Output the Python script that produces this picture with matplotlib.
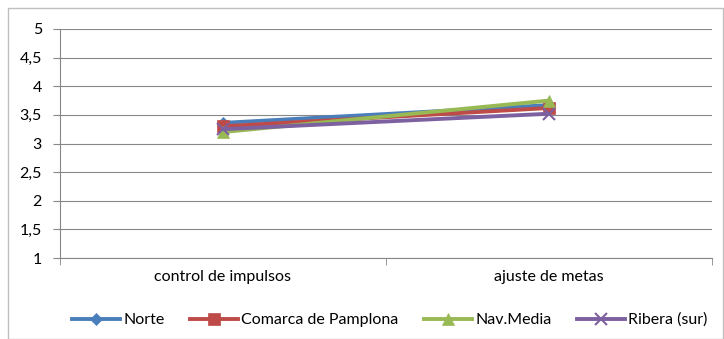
import matplotlib
matplotlib.use("Agg")
import matplotlib.pyplot as plt
from matplotlib.patches import Rectangle

categories = ["control de impulsos", "ajuste de metas"]
norte = [3.36, 3.67]
comarca = [3.30, 3.62]
navmedia = [3.20, 3.75]
ribera = [3.25, 3.52]
yticks = [1, 1.5, 2, 2.5, 3, 3.5, 4, 4.5, 5]
ylabels = ["1", "1,5", "2", "2,5", "3", "3,5", "4", "4,5", "5"]

plt.rcParams['font.family'] = ['Lato', 'DejaVu Sans']
fig = plt.figure(figsize=(7.24, 3.39), dpi=100)
fig.patches.append(Rectangle((8/724, 0), 715/724, 331/339, transform=fig.transFigure,
                             fill=False, edgecolor='#BFBFBF', lw=1))
ax = fig.add_axes([60/724, 1 - 258/339, 652/724, 229/339])

x = list(range(len(categories)))
series = [
    ("Norte", norte, '#4A7EBB', 'D', 6),
    ("Comarca de Pamplona", comarca, '#BE4B48', 's', 8),
    ("Nav.Media", navmedia, '#98B954', '^', 8),
    ("Ribera (sur)", ribera, '#7D60A0', 'x', 9),
]
for name, vals, c, m, ms in series:
    ax.plot(x, vals, color=c, lw=2.8, marker=m, markersize=ms, label=name,
            markeredgecolor=c, markerfacecolor=c, markeredgewidth=1.5 if m == 'x' else 0.5)

ax.set_xlim(-0.5, 1.5)
ax.set_ylim(1, 5)
ax.set_yticks(yticks)
ax.set_yticklabels(ylabels, fontsize=11.5)
ax.set_xticks(x)
ax.set_xticklabels(categories, fontsize=11.5)
ax.tick_params(axis='x', length=0, pad=9)
ax.set_xticks([-0.5, 0.5, 1.5], minor=True)
ax.tick_params(axis='x', which='minor', length=5, color='#878787')
ax.tick_params(axis='y', length=5, color='#878787', pad=8)
ax.yaxis.grid(True, color='#878787', lw=0.8)
ax.set_axisbelow(True)
for s in ['top', 'right']:
    ax.spines[s].set_visible(False)
ax.spines['left'].set_color('#878787')
ax.spines['bottom'].set_color('#878787')

fig.legend(loc='center', bbox_to_anchor=(390/724, 1 - 320/339), ncol=4, frameon=False,
           fontsize=11.5, handlelength=3.0, columnspacing=1.6, handletextpad=0.2)
fig.savefig("out.png", dpi=100)
